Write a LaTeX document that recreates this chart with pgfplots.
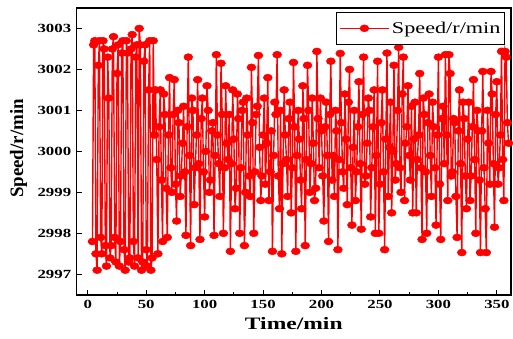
\documentclass[border=0pt]{standalone}
\usepackage{pgfplots}
\pgfplotsset{compat=1.18}
\usepackage{pgfplotstable}
\usepackage{fontspec}
\setmainfont[FakeStretch=1.35]{Liberation Serif}
\newfontfamily\ylabfont{Liberation Serif}
\pgfplotstableread{
x y
4 2997.8
5 3002.6
6 3002.7
7 2997.5
8 2997.1
9 3002.1
10 3002.7
11 2997.9
12 2997.5
13 3002.7
14 3002.5
15 2997.7
16 2997.2
17 3002.3
18 3001.3
19 2997.4
20 2997.7
21 3002.5
22 3002.8
23 2997.9
24 2997.3
25 3001.9
26 3002.6
27 2997.2
28 2997.8
29 3002.4
30 3002.7
31 2997.6
32 2997.1
33 3002.7
34 3002.4
35 2997.3
36 2997.4
37 3002.5
38 3002.85
39 2997.8
40 2997.2
41 3002.3
42 3002.6
43 2997.4
44 3003.0
45 3002.6
46 2997.1
47 2997.3
48 3002.2
49 3002.6
50 2997.6
51 2997.2
52 3001.5
53 3002.7
54 2997.1
55 2997.4
56 3002.7
57 3000.4
58 3001.5
59 2999.8
60 2997.5
61 3000.6
62 3001.5
63 2999.3
64 2997.8
65 3001.4
66 3000.9
67 2999.1
68 2997.9
69 3000.4
70 3001.8
71 2999.6
72 2999.0
73 3000.9
74 3001.75
75 2999.2
76 2998.3
77 3001.0
78 3000.7
79 2998.9
80 2999.4
81 3000.2
82 3001.1
83 2999.5
84 2997.95
85 3000.6
86 3002.3
87 2999.9
88 2997.7
89 3001.3
90 3001.0
91 2998.7
92 2999.6
93 3000.4
94 3001.75
95 2999.7
96 2997.85
97 3000.8
98 3001.3
99 2999.5
100 2998.4
101 3000.0
102 3001.6
103 3001.0
104 2999.0
105 2999.3
106 3000.5
107 3000.7
108 2997.95
109 2999.9
110 3002.36
111 3000.4
112 2999.7
113 2998.9
114 3002.15
115 3000.9
116 2998.0
117 2999.6
118 3001.6
119 3000.2
120 2999.8
121 3000.9
122 2997.56
123 2999.7
124 3001.5
125 3000.3
126 2998.6
127 2999.1
128 3001.4
129 3000.8
130 2998.0
131 2999.6
132 3001.0
133 3001.2
134 2997.7
135 2999.0
136 3001.3
137 3000.4
138 2999.4
139 2998.9
140 3002.05
141 3000.7
142 2998.0
143 2999.5
144 3000.9
145 3001.1
146 3002.34
147 3000.1
148 2998.8
149 2999.4
150 3000.4
151 3001.3
152 2999.2
153 3000.2
154 3001.8
155 2998.8
156 2999.5
157 3000.5
158 2997.56
159 2999.9
160 3001.2
161 3000.9
162 3002.36
163 2999.4
164 2998.6
165 3001.0
166 2997.5
167 2999.7
168 3001.5
169 3000.4
170 2999.8
171 2998.9
172 3000.8
173 3001.2
174 2998.5
175 2999.6
176 3002.17
177 3000.6
178 2997.56
179 2999.9
180 3001.0
181 3000.3
182 2999.3
183 2998.6
184 3001.6
185 3000.8
186 2997.7
187 2999.8
188 3002.1
189 3001.0
190 2999.0
191 2999.7
192 3001.3
193 3000.2
194 2998.8
195 2999.1
196 3002.44
197 3000.8
198 2999.6
199 3001.3
200 3000.5
201 2999.4
202 2998.3
203 3000.6
204 3001.2
205 2999.9
206 2997.8
207 3000.9
208 3002.2
209 2999.3
210 2999.9
211 2998.9
212 3001.0
213 3000.5
214 2997.6
215 2999.8
216 3002.39
217 3000.7
218 2999.5
219 2999.1
220 3001.4
221 3000.3
222 2998.7
223 3001.2
224 3002.0
225 2999.6
226 2998.2
227 3000.1
228 3001.0
229 2998.8
230 2999.5
231 3000.6
232 3001.7
233 2999.7
234 2998.1
235 3000.9
236 3002.3
237 2999.2
238 2999.4
239 3000.2
240 3001.3
241 3001.0
242 2998.4
243 2999.6
244 3000.6
245 3001.5
246 2998.0
247 2999.9
248 3002.2
249 2998.0
250 2999.2
251 3000.7
252 3001.5
253 2999.5
254 2997.6
255 3000.3
256 3002.4
257 2998.9
258 3000.1
259 3001.2
260 2998.5
261 3000.0
262 3002.1
263 2999.3
264 2999.7
265 3001.0
266 3002.54
267 2999.6
268 2999.0
269 3001.4
270 3002.3
271 2998.8
272 3000.2
273 3000.6
274 3001.6
275 2999.9
276 2999.3
277 3001.1
278 2998.5
279 3000.3
280 3001.2
281 2998.5
282 2999.8
283 3000.4
284 3001.9
285 2999.6
286 2997.85
287 3001.3
288 3000.9
289 2999.5
290 2998.0
291 3000.7
292 3001.4
293 2999.9
294 2998.9
295 3001.2
296 3000.6
297 2999.6
298 2998.2
299 3000.4
300 3002.3
301 2999.2
302 2997.85
303 3000.8
304 3001.1
305 2999.7
306 3002.36
307 3000.4
308 2998.8
309 3002.36
310 3001.9
311 2999.4
312 2999.5
313 3000.8
314 3000.7
315 2998.9
316 2997.9
317 3000.5
318 3001.5
319 2999.7
320 2997.53
321 3001.2
322 3000.8
323 2999.4
324 2998.6
325 3000.3
326 3001.2
327 2998.8
328 2999.4
329 3000.6
330 3001.75
331 2999.8
332 2998.0
333 3001.0
334 3000.5
335 2999.3
336 2997.53
337 3000.5
338 3001.95
339 2999.6
340 2998.6
341 2997.53
342 3001.0
343 3000.2
344 2999.2
345 3001.95
346 3001.4
347 2999.7
348 2998.15
349 3000.9
350 3001.7
351 2999.2
352 2999.6
353 3000.4
354 3002.44
355 2999.8
356 2998.8
357 3002.44
358 3002.3
359 3000.7
360 3000.2
}\speeddata
\begin{document}
\begin{tikzpicture}
\begin{axis}[
 scale only axis, width=436pt, height=288pt,
 xmin=-9.5, xmax=362, ymin=2996.5, ymax=3003.5,
 axis line style={line width=1.6pt},
 xtick={0,50,...,350}, ytick={2997,2998,...,3003},
 minor x tick num=1, minor y tick num=1,
 tick align=inside, tick pos=left,
 major tick length=5pt, minor tick length=3pt,
 tick style={line width=1pt, black},
 tick label style={font=\fontsize{12.5}{14}\selectfont\bfseries},
 yticklabel style={xshift=-2pt},
 xticklabel style={yshift=-1.5pt},
 /pgf/number format/assume math mode=true,
 /pgf/number format/set thousands separator={},
 xlabel={Time/min}, ylabel={Speed/r/min},
 xlabel style={font=\fontsize{17.5}{20}\selectfont\bfseries, yshift=-2pt},
 ylabel style={font=\fontsize{19}{21}\selectfont\ylabfont\bfseries, at={(axis description cs:-0.106,0.51)}, anchor=south},
 legend style={at={(1,1)}, xshift=-6pt, yshift=-4pt, anchor=north east, draw=black, line width=1pt, font=\fontsize{16.5}{18}\selectfont, inner xsep=2pt, inner ysep=7.5pt, row sep=0pt},
 legend image code/.code={\draw[mark repeat=2,mark phase=2,#1] plot coordinates {(0pt,0pt) (25pt,0pt) (50pt,0pt)};},
]
\addplot[red, line width=1.4pt, mark=*, mark size=3.5pt, mark options={solid, line width=0.5pt, fill=red, draw=red, xscale=1.28}] table[x=x,y=y] {\speeddata};
\addlegendentry{Speed/r/min}
\end{axis}
\path (current axis.south west) ++(-77pt,-44pt);
\path (current axis.north east) ++(0pt,8pt);
\end{tikzpicture}
\end{document}
